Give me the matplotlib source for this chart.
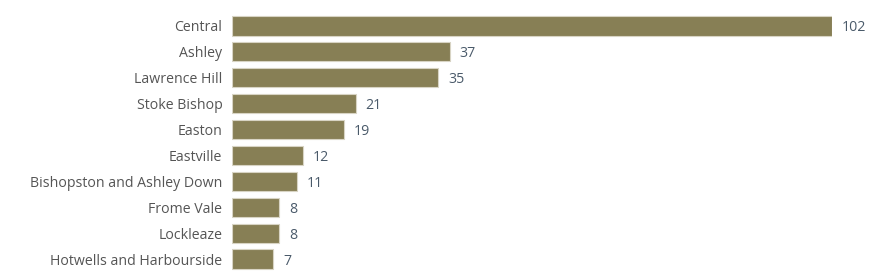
import numpy as np
import matplotlib
matplotlib.use("Agg")
import matplotlib.pyplot as plt

wards = ["Central", "Ashley", "Lawrence Hill", "Stoke Bishop", "Easton",
         "Eastville", "Bishopston and Ashley Down", "Frome Vale", "Lockleaze",
         "Hotwells and Harbourside"]
counts = [102, 37, 35, 21, 19, 12, 11, 8, 8, 7]

plt.rcParams['font.family'] = ['Open Sans', 'DejaVu Sans']

fig = plt.figure(figsize=(8.73, 2.72), dpi=100)
ax = fig.add_axes([232 / 873, 0.0, 600 / 873, 1 - 13 / 272])

y = np.arange(len(wards))
ax.barh(y, counts, height=0.74, color="#877f55", edgecolor="#d8d4c4", linewidth=0.8)
ax.set_xlim(0, 102)
ax.set_ylim(len(wards) - 0.5, -0.5)
ax.set_yticks(y)
ax.set_yticklabels(wards, fontsize=10.2, color="#555555", va="center_baseline")
ax.tick_params(axis="y", length=0, pad=7)
ax.set_xticks([])
for s in ax.spines.values():
    s.set_visible(False)

for yi, v in zip(y, counts):
    ax.text(v + 1.7, yi, str(v), va="center_baseline", ha="left", fontsize=10.2,
            color="#4a5a6a", clip_on=False)

fig.savefig("out.png", dpi=100)
